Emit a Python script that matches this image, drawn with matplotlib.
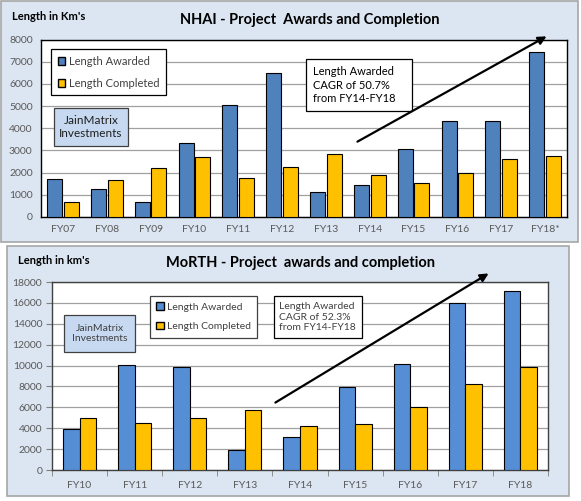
import numpy as np
import matplotlib.pyplot as plt
from matplotlib.patches import Rectangle, Patch

plt.rcParams['font.family'] = ['Lato', 'DejaVu Sans']

W, H = 581, 501

# NHAI data
nhai_years = ['FY07', 'FY08', 'FY09', 'FY10', 'FY11', 'FY12', 'FY13', 'FY14', 'FY15', 'FY16', 'FY17', 'FY18*']
nhai_awarded = [1720, 1245, 660, 3355, 5065, 6500, 1124, 1440, 3070, 4345, 4330, 7415]
nhai_completed = [660, 1680, 2200, 2700, 1780, 2250, 2846, 1900, 1510, 1990, 2620, 2770]

# MoRTH data
morth_years = ['FY10', 'FY11', 'FY12', 'FY13', 'FY14', 'FY15', 'FY16', 'FY17', 'FY18']
morth_awarded = [3965, 10006, 9815, 1886, 3133, 7990, 10130, 16010, 17100]
morth_completed = [4955, 4510, 5020, 5720, 4250, 4380, 6075, 8250, 9850]

blue = '#4f81bd'
blue2 = '#558ed5'
yellow = '#ffc000'
panel_bg = '#dce6f2'
box_bg = '#c6d9f1'
tick_col = '#595959'


def fx(x):
    return x / W


def fy(y):
    return 1 - y / H


def axes_rect(l, t, r, b):
    return [fx(l), fy(b), (r - l) / W, (b - t) / H]


def panel(l, t, r, b):
    # rectangle in figure coords from pixel box
    return Rectangle((fx(l), fy(b)), (r - l) / W, (b - t) / H, transform=fig.transFigure,
                     facecolor=panel_bg, edgecolor='#a6a6a6', lw=1.2, zorder=-5)


fig = plt.figure(figsize=(W / 100, H / 100), dpi=100)
fig.patch.set_facecolor('white')
fig.add_artist(panel(1, 1, 578, 242))
fig.add_artist(panel(7, 246, 569, 496))

# ---- top chart ----
ax1 = fig.add_axes(axes_rect(41, 39.5, 567, 217), zorder=1)
x = np.arange(len(nhai_years))
bw = 0.34
ax1.bar(x - 0.19, nhai_awarded, bw, color=blue, edgecolor='black', lw=0.8, zorder=3)
ax1.bar(x + 0.19, nhai_completed, bw, color=yellow, edgecolor='black', lw=0.8, zorder=3)
ax1.set_xlim(-0.5, len(nhai_years) - 0.5)
ax1.set_ylim(0, 8000)
ax1.set_yticks(range(0, 8001, 1000))
ax1.set_xticks(x)
ax1.set_xticklabels(nhai_years)
ax1.tick_params(axis='both', length=0, labelsize=7.5, labelcolor=tick_col, pad=6)
ax1.grid(axis='y', color='#a0a0a0', lw=0.9, zorder=0)
for s in ax1.spines.values():
    s.set_color('black')
    s.set_linewidth(1.0)
leg1 = ax1.legend(handles=[Patch(facecolor=blue, edgecolor='black', label='Length Awarded'),
                           Patch(facecolor=yellow, edgecolor='black', label='Length Completed')],
                  loc='upper left', bbox_to_anchor=(fx(51), fy(49)), bbox_transform=fig.transFigure,
                  borderaxespad=0, fontsize=8, handlelength=0.7, handleheight=0.7,
                  handletextpad=0.3, labelspacing=1.0, fancybox=False, edgecolor='black',
                  framealpha=1, borderpad=0.6, labelcolor='#404040')
leg1.get_frame().set_linewidth(0.9)

# ---- bottom chart ----
ax2 = fig.add_axes(axes_rect(52, 282, 548, 470), zorder=1)
x2 = np.arange(len(morth_years))
bw2 = 0.3
ax2.bar(x2 - 0.15, morth_awarded, bw2, color=blue2, edgecolor='black', lw=0.8, zorder=3)
ax2.bar(x2 + 0.15, morth_completed, bw2, color=yellow, edgecolor='black', lw=0.8, zorder=3)
ax2.set_xlim(-0.5, len(morth_years) - 0.5)
ax2.set_ylim(0, 18000)
ax2.set_yticks(range(0, 18001, 2000))
ax2.set_xticks(x2)
ax2.set_xticklabels(morth_years)
ax2.set_xticks(np.arange(-0.5, len(morth_years), 1), minor=True)
ax2.tick_params(axis='x', which='major', length=0, labelsize=7.5, labelcolor=tick_col, pad=8)
ax2.tick_params(axis='x', which='minor', length=4, color='#808080', direction='out')
ax2.tick_params(axis='y', length=4, color='#808080', labelsize=7.5, labelcolor=tick_col, pad=3)
ax2.grid(axis='y', color='#a0a0a0', lw=0.9, zorder=0)
for s in ax2.spines.values():
    s.set_color('#404040')
    s.set_linewidth(1.0)
leg2 = ax2.legend(handles=[Patch(facecolor=blue2, edgecolor='black', label='Length Awarded'),
                           Patch(facecolor=yellow, edgecolor='black', label='Length Completed')],
                  loc='upper left', bbox_to_anchor=(fx(150), fy(296)), bbox_transform=fig.transFigure,
                  borderaxespad=0, fontsize=7.5, handlelength=0.7, handleheight=0.7,
                  handletextpad=0.3, labelspacing=1.0, fancybox=False, edgecolor='#404040',
                  framealpha=1, borderpad=0.6, labelcolor='#404040')
leg2.get_frame().set_linewidth(0.9)

# ---- overlay texts, boxes, arrows ----
ov = fig.add_axes([0, 0, 1, 1], zorder=5)
ov.set_xlim(0, W)
ov.set_ylim(H, 0)
ov.axis('off')
ov.patch.set_alpha(0)

ov.text(12, 16, "Length in Km's", fontsize=8, fontweight='bold', va='center', ha='left')
ov.text(310, 20, 'NHAI - Project  Awards and Completion', fontsize=10.5, fontweight='bold',
        va='center', ha='center')
ov.text(18, 260, "Length in km's", fontsize=8, fontweight='bold', va='center', ha='left')
ov.text(300, 263, 'MoRTH - Project  awards and completion', fontsize=10.5, fontweight='bold',
        va='center', ha='center')

ov.add_patch(Rectangle((54, 108), 74, 38, facecolor=box_bg, edgecolor='#404040', lw=0.9))
ov.text(91, 127, 'JainMatrix\nInvestments', fontsize=8.5, ha='center', va='center',
        linespacing=1.2, color='#1f1f1f')
ov.add_patch(Rectangle((64, 315), 71, 37, facecolor=box_bg, edgecolor='#404040', lw=0.9))
ov.text(99.5, 333.5, 'JainMatrix\nInvestments', fontsize=7.5, ha='center', va='center',
        linespacing=1.2, color='#404040')

ov.add_patch(Rectangle((306, 59), 106, 52, facecolor='white', edgecolor='black', lw=0.9))
ov.text(313, 85, 'Length Awarded\nCAGR of 50.7%\nfrom FY14-FY18', fontsize=8, ha='left',
        va='center', linespacing=1.3)
ov.add_patch(Rectangle((274, 296), 88, 42, facecolor='white', edgecolor='black', lw=0.9))
ov.text(279, 317, 'Length Awarded\nCAGR of 52.3%\nfrom FY14-FY18', fontsize=7.5, ha='left',
        va='center', linespacing=1.2, color='#404040')

ov.annotate('', xy=(549, 35), xytext=(355, 143),
            arrowprops=dict(arrowstyle='-|>', color='black', lw=1.6, mutation_scale=12))
ov.annotate('', xy=(491, 272), xytext=(273, 404),
            arrowprops=dict(arrowstyle='-|>', color='black', lw=1.6, mutation_scale=12))

fig.savefig('out.png', dpi=100)
